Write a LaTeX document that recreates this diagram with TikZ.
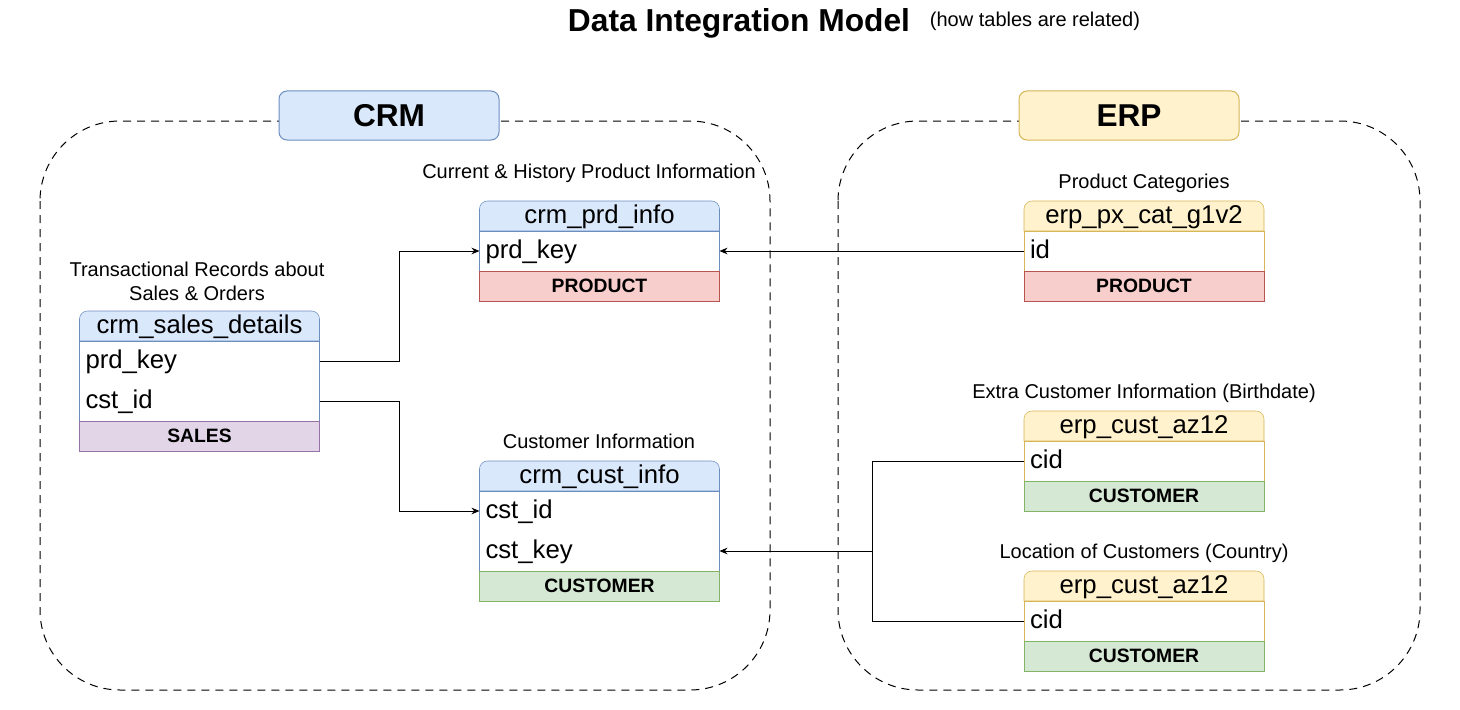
\documentclass[tikz,border=0pt]{standalone}
\usepackage{fontspec}
\setmainfont{Liberation Sans}
\usetikzlibrary{positioning, backgrounds, arrows.meta}

\definecolor{crmfill}{HTML}{DAE8FC}
\definecolor{crmline}{HTML}{6C8EBF}
\definecolor{erpfill}{HTML}{FFF2CC}
\definecolor{erpline}{HTML}{D6B656}
\definecolor{prodfill}{HTML}{F8CECC}
\definecolor{prodline}{HTML}{B85450}
\definecolor{custfill}{HTML}{D5E8D4}
\definecolor{custline}{HTML}{82B366}
\definecolor{salesfill}{HTML}{E1D5E7}
\definecolor{salesline}{HTML}{9673A6}

% table header with rounded top corners: node, fill, line
\newcommand{\headshape}[3]{%
  \filldraw[fill=#2, draw=#3] (#1.south west) -- ([yshift=-6pt]#1.north west)
    arc[start angle=180, end angle=90, radius=6pt] -- ([xshift=-6pt]#1.north east)
    arc[start angle=90, end angle=0, radius=6pt] -- (#1.south east) -- cycle;}

\begin{document}
\begin{tikzpicture}[x=0.75pt, y=-0.75pt, line width=0.75pt,
    thead/.style={minimum width=180pt, minimum height=22.5pt, inner sep=0pt, outer sep=0pt,
        text height=14pt, text depth=2.5pt, font=\fontsize{19.3}{23}\selectfont},
    trow/.style={text width=171pt, inner xsep=4.5pt, inner ysep=0pt, outer sep=0pt,
        text height=14pt, text depth=2.5pt,
        minimum height=30pt, align=left, font=\fontsize{19.3}{23}\selectfont},
    tfoot/.style={minimum width=180pt, minimum height=22.5pt, inner sep=0pt, outer sep=0pt,
        font=\bfseries\fontsize{14.5}{17}\selectfont},
    note/.style={align=center, font=\fontsize{15}{18}\selectfont},
    group/.style={draw, dash pattern=on 6pt off 4.5pt, rounded corners=60pt},
    tag/.style={rounded corners=6pt, minimum width=165pt, minimum height=36.75pt,
        font=\bfseries\fontsize{23.7}{28}\selectfont},
    link/.style={-{Stealth[length=6pt, width=5pt]}},
]
\useasboundingbox (0,0) rectangle (1460,710);

% title
\node[anchor=base, font=\bfseries\fontsize{23.8}{28}\selectfont] (title) at (739,32) {Data Integration Model};
\node[anchor=base, font=\fontsize{15}{18}\selectfont] (subtitle) at (1035,27) {(how tables are related)};

% source systems
\draw[group] (40,121) rectangle (770,690);
\draw[group] (838,121) rectangle (1420,690);
\node[tag, fill=crmfill, draw=crmline] (crm) at (389,115.5) {CRM};
\node[tag, fill=erpfill, draw=erpline] (erp) at (1129,115.5) {ERP};

% crm tables
\node[note] (sales-note) at (197,281) {Transactional Records about\\Sales \& Orders};
\node[thead] (sales-h) at (199.5,326) {crm\_sales\_details};
\node[trow, below=0pt of sales-h] (sales-prd) {prd\_key};
\node[trow, below=0pt of sales-prd] (sales-cst) {cst\_id};
\node[tfoot, fill=salesfill, draw=salesline, below=0pt of sales-cst] (sales-f) {SALES};

\node[note] (prd-note) at (589,173) {Current \& History Product Information};
\node[thead] (prd-h) at (599.5,216) {crm\_prd\_info};
\node[trow, below=0pt of prd-h] (prd-key) {prd\_key};
\node[tfoot, fill=prodfill, draw=prodline, below=0pt of prd-key] (prd-f) {PRODUCT};

\node[note] (cust-note) at (599,441) {Customer Information};
\node[thead] (cust-h) at (599.5,476) {crm\_cust\_info};
\node[trow, below=0pt of cust-h] (cust-id) {cst\_id};
\node[trow, below=0pt of cust-id] (cust-key) {cst\_key};
\node[tfoot, fill=custfill, draw=custline, below=0pt of cust-key] (cust-f) {CUSTOMER};

% erp tables
\node[note] (px-note) at (1144,183) {Product Categories};
\node[thead] (px-h) at (1144,216) {erp\_px\_cat\_g1v2};
\node[trow, below=0pt of px-h] (px-id) {id};
\node[tfoot, fill=prodfill, draw=prodline, below=0pt of px-id] (px-f) {PRODUCT};

\node[note] (az1-note) at (1144,393) {Extra Customer Information (Birthdate)};
\node[thead] (az1-h) at (1144,426) {erp\_cust\_az12};
\node[trow, below=0pt of az1-h] (az1-cid) {cid};
\node[tfoot, fill=custfill, draw=custline, below=0pt of az1-cid] (az1-f) {CUSTOMER};

\node[note] (az2-note) at (1144,553) {Location of Customers (Country)};
\node[thead] (az2-h) at (1144,586) {erp\_cust\_az12};
\node[trow, below=0pt of az2-h] (az2-cid) {cid};
\node[tfoot, fill=custfill, draw=custline, below=0pt of az2-cid] (az2-f) {CUSTOMER};

\begin{scope}[on background layer]
  \headshape{sales-h}{crmfill}{crmline}
  \draw[crmline, fill=white] (sales-h.south west) rectangle (sales-cst.south east);
  \headshape{prd-h}{crmfill}{crmline}
  \draw[crmline, fill=white] (prd-h.south west) rectangle (prd-key.south east);
  \headshape{cust-h}{crmfill}{crmline}
  \draw[crmline, fill=white] (cust-h.south west) rectangle (cust-key.south east);
  \headshape{px-h}{erpfill}{erpline}
  \draw[erpline, fill=white] (px-h.south west) rectangle (px-id.south east);
  \headshape{az1-h}{erpfill}{erpline}
  \draw[erpline, fill=white] (az1-h.south west) rectangle (az1-cid.south east);
  \headshape{az2-h}{erpfill}{erpline}
  \draw[erpline, fill=white] (az2-h.south west) rectangle (az2-cid.south east);
\end{scope}

% relations
\draw[link] (sales-prd.east) -- ++(80,0) |- (prd-key.west);
\draw[link] (sales-cst.east) -- ++(80,0) |- (cust-id.west);
\draw[link] (px-id.west) -- (prd-key.east);
\coordinate (join) at (872,551);
\draw (az1-cid.west) -| (join);
\draw (az2-cid.west) -| (join);
\draw[link] (join) -- (cust-key.east);
\end{tikzpicture}
\end{document}
